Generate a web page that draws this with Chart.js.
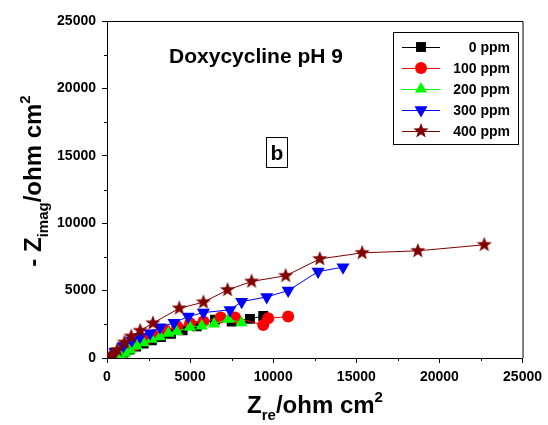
<!DOCTYPE html>
<html>
<head>
<meta charset="utf-8">
<script src="https://cdn.jsdelivr.net/npm/chart.js@4.4.0/dist/chart.umd.min.js"></script>
<style>
  body { margin: 0; background: #fff; }
</style>
</head>
<body>
<canvas id="chartNyquist" width="548" height="425"></canvas>
<script>
const seriesNames = ["0 ppm", "100 ppm", "200 ppm", "300 ppm", "400 ppm"];

const zre_0 = [450, 700, 1000, 1350, 1750, 2200, 2700, 3250, 3850, 4550, 5400, 6500, 7500, 8600, 9400];
const zim_0 = [30, 200, 400, 620, 850, 1080, 1320, 1560, 1800, 2050, 2350, 2850, 2700, 2900, 3120];

const zre_100 = [480, 1080, 1690, 2290, 2790, 3490, 4230, 5000, 5800, 6840, 7700, 9400, 9700, 10900];
const zim_100 = [220, 600, 970, 1340, 1710, 2080, 2330, 2580, 2700, 3000, 3000, 2450, 2950, 3070];

const zre_200 = [850, 1090, 1390, 1790, 2190, 2690, 3190, 3690, 4200, 5000, 5700, 6440, 7300, 8100];
const zim_200 = [80, 350, 600, 890, 1140, 1390, 1580, 1840, 1960, 2280, 2380, 2530, 2880, 2620];

const zre_300 = [180, 480, 980, 1490, 1990, 2590, 3190, 4030, 4890, 5800, 7400, 8100, 9610, 10900, 12700, 14200];
const zim_300 = [100, 470, 890, 1290, 1580, 1840, 2280, 2620, 3070, 3370, 3570, 4180, 4530, 5000, 6410, 6740];

const zre_400 = [150, 320, 620, 1050, 1460, 2000, 2760, 4350, 5800, 7250, 8700, 10750, 12800, 15350, 18700, 22700];
const zim_400 = [50, 220, 600, 1150, 1600, 2030, 2580, 3690, 4140, 5050, 5680, 6100, 7350, 7800, 7950, 8400];

const xTicks = [0, 5000, 10000, 15000, 20000, 25000];
const yTicks = [0, 5000, 10000, 15000, 20000, 25000];
const minorTicks = [2500, 7500, 12500, 17500, 22500];

const FONT = "'Liberation Sans', Arial, sans-serif";

// Estrella rellena para 400 ppm
function makeStar(r, color) {
  const c = document.createElement("canvas");
  c.width = c.height = r * 2 + 2;
  const g = c.getContext("2d");
  g.fillStyle = color;
  g.beginPath();
  for (let i = 0; i < 10; i++) {
    const rad = i % 2 ? r * 0.42 : r;
    const a = -Math.PI / 2 + (i * Math.PI) / 5;
    g.lineTo(c.width / 2 + rad * Math.cos(a), c.height / 2 + rad * Math.sin(a));
  }
  g.closePath();
  g.fill();
  return c;
}
const starImg = makeStar(8, "#800000");

const styles = [
  { color: "#000000", pointStyle: "rect", radius: 7, rotation: 0 },
  { color: "#ff0000", pointStyle: "circle", radius: 6, rotation: 0 },
  { color: "#00ff00", pointStyle: "triangle", radius: 7, rotation: 0 },
  { color: "#0000ff", pointStyle: "triangle", radius: 7.5, rotation: 180 },
  { color: "#800000", pointStyle: starImg, radius: 8, rotation: 0 },
];

const xs = [zre_0, zre_100, zre_200, zre_300, zre_400];
const ys = [zim_0, zim_100, zim_200, zim_300, zim_400];

const datasets = seriesNames.map((name, k) => ({
  label: name,
  data: xs[k].map((x, i) => ({ x: x, y: ys[k][i] })),
  showLine: true,
  borderColor: styles[k].color,
  backgroundColor: styles[k].color,
  borderWidth: 1,
  pointStyle: styles[k].pointStyle,
  pointRadius: styles[k].radius,
  pointHoverRadius: styles[k].radius,
  pointRotation: styles[k].rotation,
  pointBorderWidth: 0,
  order: 5 - k,
}));

// Texto con subindices / superindices
function drawRich(ctx, parts, x, y) {
  let w = 0;
  for (const p of parts) {
    ctx.font = "bold " + p.size + "px " + FONT;
    w += ctx.measureText(p.text).width;
  }
  let cx = x - w / 2;
  ctx.textAlign = "left";
  ctx.textBaseline = "alphabetic";
  for (const p of parts) {
    ctx.font = "bold " + p.size + "px " + FONT;
    ctx.fillText(p.text, cx, y + (p.dy || 0));
    cx += ctx.measureText(p.text).width;
  }
}

const decorPlugin = {
  id: "decor",
  afterDraw(chart) {
    const { ctx, chartArea: a, scales } = chart;
    ctx.save();
    ctx.strokeStyle = "#000";
    ctx.fillStyle = "#000";
    ctx.lineWidth = 1;

    // Marco superior y derecho
    ctx.beginPath();
    ctx.moveTo(a.left, a.top + 0.5);
    ctx.lineTo(a.right + 0.5, a.top + 0.5);
    ctx.lineTo(a.right + 0.5, a.bottom);
    ctx.stroke();

    // Ticks menores
    ctx.beginPath();
    for (const v of minorTicks) {
      const px = Math.round(scales.x.getPixelForValue(v)) + 0.5;
      ctx.moveTo(px, a.bottom);
      ctx.lineTo(px, a.bottom + 3);
      const py = Math.round(scales.y.getPixelForValue(v)) + 0.5;
      ctx.moveTo(a.left - 3, py);
      ctx.lineTo(a.left, py);
    }
    ctx.stroke();

    // Titulo
    ctx.textAlign = "center";
    ctx.textBaseline = "alphabetic";
    ctx.font = "bold 21px " + FONT;
    ctx.fillText("Doxycycline pH 9", 256, 63);

    // Etiqueta b
    ctx.strokeRect(266.5, 137.5, 21, 30);
    ctx.font = "bold 21px " + FONT;
    ctx.fillText("b", 277, 160);

    // Titulos de ejes
    drawRich(ctx, [
      { text: "Z", size: 24 },
      { text: "re", size: 15, dy: 7 },
      { text: "/ohm cm", size: 24 },
      { text: "2", size: 15, dy: -11 },
    ], 315, 413);

    ctx.save();
    ctx.translate(41, 181);
    ctx.rotate(-Math.PI / 2);
    drawRich(ctx, [
      { text: "- Z", size: 24 },
      { text: "imag", size: 15, dy: 7 },
      { text: "/ohm cm", size: 24 },
      { text: "2", size: 15, dy: -11 },
    ], 0, 0);
    ctx.restore();

    // Leyenda
    ctx.strokeRect(393.5, 32.5, 125, 112);
    ctx.font = "bold 14px " + FONT;
    ctx.textAlign = "right";
    ctx.textBaseline = "middle";
    seriesNames.forEach((name, k) => {
      const ly = 47 + k * 21;
      ctx.strokeStyle = styles[k].color;
      ctx.fillStyle = styles[k].color;
      ctx.beginPath();
      ctx.moveTo(402, ly + 0.5);
      ctx.lineTo(440, ly + 0.5);
      ctx.stroke();
      Chart.helpers.drawPoint(ctx, {
        pointStyle: styles[k].pointStyle,
        rotation: styles[k].rotation,
        radius: styles[k].radius,
        borderWidth: 0,
      }, 421, ly);
      ctx.fillStyle = "#000";
      ctx.fillText(name, 510, ly + 1);
    });
    ctx.restore();
  },
};

const tickFont = { family: FONT, size: 14, weight: "bold" };

new Chart(document.getElementById("chartNyquist"), {
  type: "scatter",
  data: { datasets: datasets },
  options: {
    responsive: false,
    animation: false,
    layout: { padding: { top: 21, right: 25, left: 0, bottom: 0 } },
    plugins: { legend: { display: false }, tooltip: { enabled: false } },
    scales: {
      x: {
        type: "linear",
        min: 0,
        max: 25000,
        afterBuildTicks: (s) => { s.ticks = xTicks.map((v) => ({ value: v })); },
        afterFit: (s) => { s.height = 67; },
        ticks: { color: "#000", font: tickFont, padding: 6, maxRotation: 0, callback: (v) => String(v) },
        grid: { drawOnChartArea: false, drawTicks: true, tickLength: 5, color: "#000", tickColor: "#000" },
        border: { display: true, color: "#000", width: 1 },
      },
      y: {
        type: "linear",
        min: 0,
        max: 25000,
        afterBuildTicks: (s) => { s.ticks = yTicks.map((v) => ({ value: v })); },
        afterFit: (s) => { s.width = 107; },
        ticks: { color: "#000", font: tickFont, padding: 6, callback: (v) => String(v) },
        grid: { drawOnChartArea: false, drawTicks: true, tickLength: 5, color: "#000", tickColor: "#000" },
        border: { display: true, color: "#000", width: 1 },
      },
    },
  },
  plugins: [decorPlugin],
});
</script>
</body>
</html>
